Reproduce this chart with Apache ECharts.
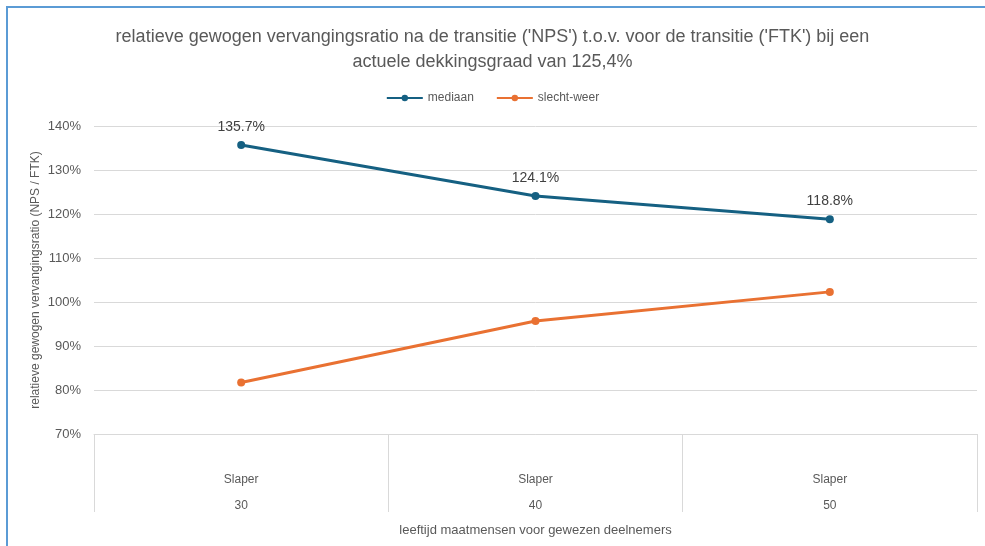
<!DOCTYPE html>
<html><head><meta charset="utf-8">
<script src="https://cdn.jsdelivr.net/npm/echarts@6/dist/echarts.min.js"></script>
<style>html,body{margin:0;padding:0;background:#fff}#c{width:985px;height:546px}</style>
</head><body><div id="c"></div>
<script>
var categories = ['Slaper\n30', 'Slaper\n40', 'Slaper\n50'];
var mediaan = [135.7, 124.1, 118.8];
var slechtWeer = [81.7, 95.7, 102.3];
var yTicks = [70, 80, 90, 100, 110, 120, 130, 140];

var chart = echarts.init(document.getElementById('c'));
var font = 'Liberation Sans';
chart.setOption({
  animation: false,
  textStyle: {fontFamily: font},
  graphic: [{type: 'rect', shape: {x: 7, y: 7, width: 990, height: 560}, style: {fill: 'none', stroke: '#5B9BD5', lineWidth: 2}, silent: true}],
  title: {
    text: "relatieve gewogen vervangingsratio na de transitie ('NPS') t.o.v. voor de transitie ('FTK') bij een\nactuele dekkingsgraad van 125,4%",
    left: 'center', top: 20,
    textStyle: {fontFamily: font, fontSize: 18, fontWeight: 'normal', color: '#595959', lineHeight: 25}
  },
  legend: {
    top: 87, left: 'center', itemWidth: 36, itemHeight: 8, itemGap: 22,
    textStyle: {fontFamily: font, fontSize: 12, color: '#595959'},
    data: ['mediaan', 'slecht-weer']
  },
  grid: {left: 94, right: 8, top: 126, bottom: 112},
  xAxis: {
    type: 'category', data: categories, boundaryGap: true,
    name: 'leeftijd maatmensen voor gewezen deelnemers', nameLocation: 'middle', nameGap: 82,
    nameTextStyle: {fontFamily: font, fontSize: 13, color: '#595959'},
    axisLine: {show: true, lineStyle: {color: '#d9d9d9', width: 1}},
    axisTick: {show: true, length: 78, lineStyle: {color: '#d9d9d9'}},
    axisLabel: {margin: 33, fontSize: 12, color: '#595959', lineHeight: 26, fontFamily: font}
  },
  yAxis: {
    type: 'value', min: 70, max: 140, interval: 10,
    name: 'relatieve gewogen vervangingsratio (NPS / FTK)', nameLocation: 'middle', nameGap: 52,
    nameMoveOverlap: false,
    nameTextStyle: {fontFamily: font, fontSize: 12, color: '#595959'},
    axisLine: {show: false}, axisTick: {show: false},
    splitLine: {lineStyle: {color: '#d9d9d9', width: 1}},
    axisLabel: {formatter: function (v) { return yTicks.indexOf(v) >= 0 ? v + '%' : ''; }, fontSize: 13, color: '#595959', margin: 13, fontFamily: font}
  },
  series: [
    {name: 'mediaan', type: 'line', data: mediaan, symbol: 'circle', symbolSize: 8,
     lineStyle: {width: 3, color: '#156082'}, itemStyle: {color: '#156082'},
     label: {show: true, position: 'top', distance: 7, formatter: function (p) { return p.value.toFixed(1) + '%'; }, fontSize: 14, color: '#404040', fontFamily: font}},
    {name: 'slecht-weer', type: 'line', data: slechtWeer, symbol: 'circle', symbolSize: 8,
     lineStyle: {width: 3, color: '#E97132'}, itemStyle: {color: '#E97132'}}
  ]
});
</script></body></html>
